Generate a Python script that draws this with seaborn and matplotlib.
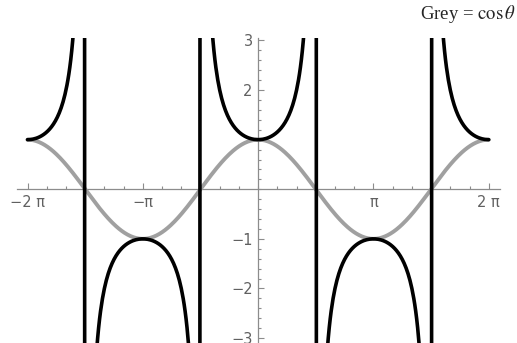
import numpy as np
import matplotlib
matplotlib.use('Agg')
import matplotlib.pyplot as plt
from matplotlib.ticker import FixedLocator, MultipleLocator
import seaborn as sns

# sampled angle grid and the two curves
theta = np.linspace(-2 * np.pi, 2 * np.pi, 481)
cos_vals = np.cos(theta)
sec_vals = np.clip(1 / cos_vals, -50, 50)

xtick_pos = [-2 * np.pi, -np.pi, np.pi, 2 * np.pi]
xtick_labels = ['\u22122 \u03c0', '\u2212\u03c0', '\u03c0', '2 \u03c0']
ytick_pos = [-3, -2, -1, 2, 3]
ytick_labels = ['\u22123', '\u22122', '\u22121', '2', '3']

sns.set_style('white')
plt.rcParams['font.family'] = ['DejaVu Sans']
plt.rcParams['mathtext.fontset'] = 'stix'

fig = plt.figure(figsize=(5.17, 3.43), dpi=100)
ax = fig.add_axes([17 / 517, 0, 483 / 517, 305 / 343])

sns.lineplot(x=theta, y=cos_vals, color='#a0a0a0', lw=2.8, ax=ax, zorder=3)
sns.lineplot(x=theta, y=sec_vals, color='black', lw=2.6, ax=ax, zorder=4)

ax.set_xlim(-6.57, 6.59)
ax.set_ylim(-3.1, 3.05)

for s in ['top', 'right']:
    ax.spines[s].set_visible(False)
for s in ['left', 'bottom']:
    ax.spines[s].set_position(('data', 0))
    ax.spines[s].set_color('#8c8c8c')
    ax.spines[s].set_linewidth(0.9)

ax.xaxis.set_major_locator(FixedLocator(xtick_pos))
ax.set_xticklabels(xtick_labels)
ax.xaxis.set_minor_locator(MultipleLocator(np.pi / 6))
ax.yaxis.set_major_locator(FixedLocator(ytick_pos))
ax.set_yticklabels(ytick_labels)
ax.yaxis.set_minor_locator(MultipleLocator(0.2))

ax.tick_params(which='both', direction='in', bottom=True, left=True,
               color='#8c8c8c', width=0.8, labelcolor='#606060', labelsize=10.5)
ax.tick_params(which='major', length=4, pad=4)
ax.tick_params(which='minor', length=2.5)
ax.set_xlabel('')
ax.set_ylabel('')

fig.text(0.997, 1 - 14 / 343, r'Grey = $\mathrm{cos}\,\theta$', ha='right', va='center',
         fontsize=13.5, fontfamily='Liberation Serif')

fig.savefig('out.png', dpi=100)
